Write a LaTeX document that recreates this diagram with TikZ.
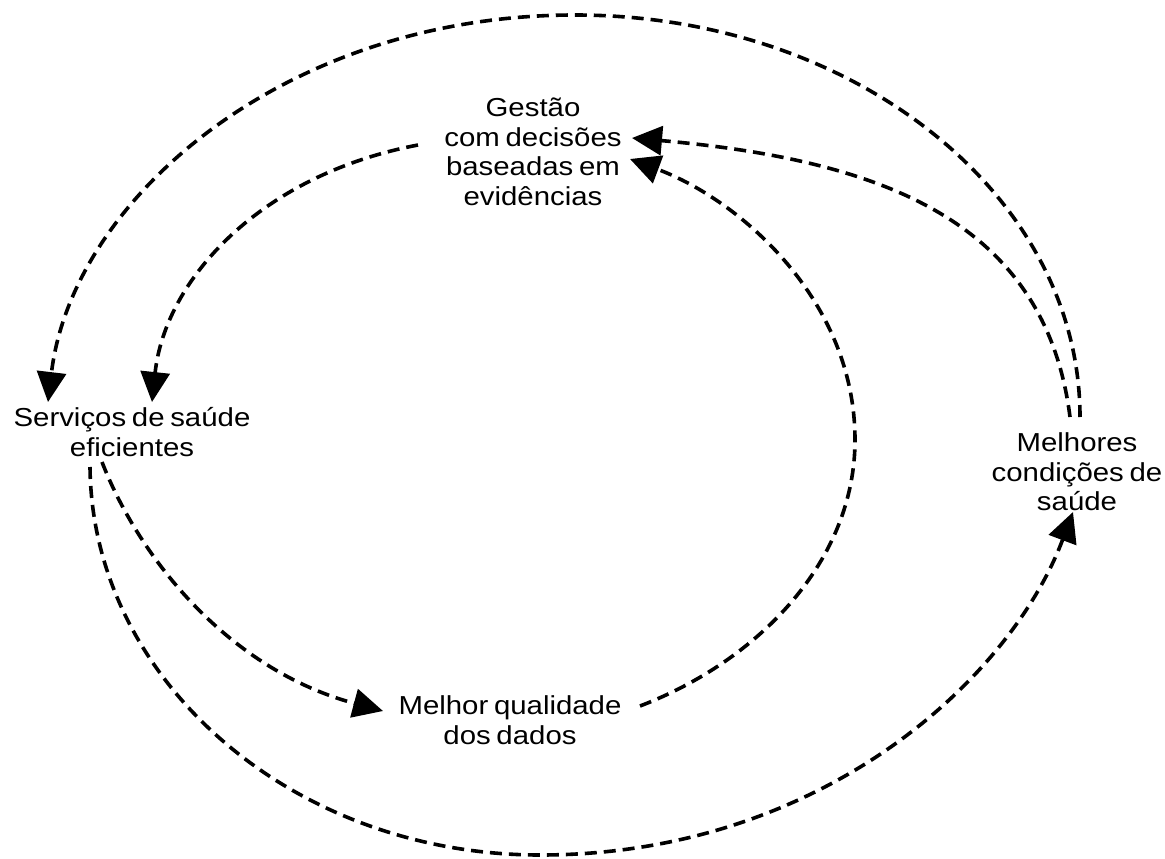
\documentclass[tikz,border=0pt]{standalone}
\usepackage{fontspec}
\setmainfont{Liberation Sans}[FakeStretch=1.13,WordSpace=0.7]
\usetikzlibrary{arrows.meta,calc}

\tikzset{
  label/.style={align=center,inner sep=0pt,font=\fontsize{26}{29.5}\selectfont},
  flow/.style={line width=3.6pt,dash pattern=on 12pt off 7pt,
    -{Triangle[length=30pt,width=29pt]}}
}

\begin{document}
\begin{tikzpicture}[x=1pt,y=-1pt]
  \useasboundingbox[fill=white] (0,0) rectangle (1165,859);

  % the four stages of the cycle
  \node[label] (gestao) at (533,152) {Gestão\\com decisões\\baseadas em\\evidências};
  \node[label] (serv)   at (132,432) {Serviços de saúde\\eficientes};
  \node[label] (melh)   at (1077,472) {Melhores\\condições de\\saúde};
  \node[label] (qual)   at (510,720) {Melhor qualidade\\dos dados};

  % outer loop over the top: health conditions back to services
  \draw[flow] ($(melh)+(3,-55)$) .. controls (1080,195) and (854,15) .. (575,15)
    .. controls (284,15) and (72,200) .. ($(serv)+(-84,-30)$);

  % management feeds the services
  \draw[flow] ($(gestao)+(-115,-7)$) .. controls (260,175) and (165,280) .. ($(serv)+(20,-30)$);

  % better health conditions inform management
  \draw[flow] ($(melh)+(-7,-55)$) .. controls (1045,220) and (880,160) .. ($(gestao)+(99,-14)$);

  % data quality informs management
  \draw[flow] ($(qual)+(130,-14)$) .. controls (760,660) and (855,560) .. (855,440)
    .. controls (855,300) and (740,200) .. ($(gestao)+(97,7)$);

  % services improve data quality
  \draw[flow] ($(serv)+(-30,30)$) .. controls (140,560) and (230,670) .. ($(qual)+(-127,-9)$);

  % outer loop along the bottom: services lead to better health
  \draw[flow] ($(serv)+(-42,35)$) .. controls (92,680) and (292,855) .. (540,855)
    .. controls (820,855) and (1010,680) .. ($(melh)+(-4,40)$);
\end{tikzpicture}
\end{document}
